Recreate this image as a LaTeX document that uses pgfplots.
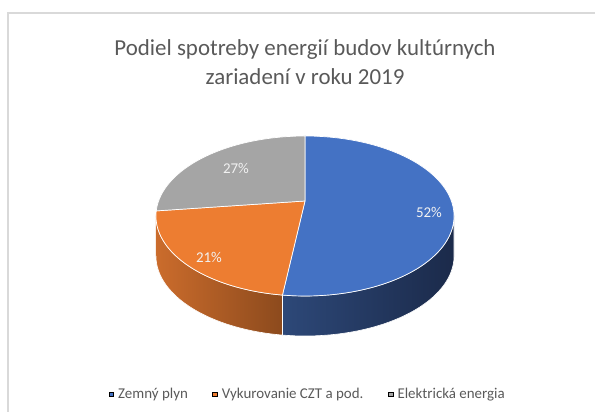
\documentclass[border=0pt]{standalone}
\usepackage{pgfplots}
\pgfplotsset{compat=1.18}
\usepackage{pgfplotstable}
\usepackage{fontspec}
\setmainfont{Carlito}
\definecolor{cblue}{HTML}{4472C4}
\definecolor{corange}{HTML}{ED7D31}
\definecolor{cgray}{HTML}{A5A5A5}
\definecolor{ctext}{HTML}{595959}
\definecolor{cframe}{HTML}{D9D9D9}
\definecolor{bwallL}{HTML}{2D4878}
\definecolor{bwallR}{HTML}{1B2A4A}
\definecolor{owallL}{HTML}{CB6C2C}
\definecolor{owallR}{HTML}{8C4A1D}
\definecolor{clabel}{HTML}{F2F2F2}
\pgfplotstableread{
share
52
21
27
}\shares
\pgfplotstablegetelem{0}{share}\of\shares \let\vA\pgfplotsretval
\pgfplotstablegetelem{1}{share}\of\shares \let\vB\pgfplotsretval
\pgfplotstablegetelem{2}{share}\of\shares \let\vC\pgfplotsretval
\pgfmathsetmacro\tA{90}
\pgfmathsetmacro\tB{90-3.6*\vA}
\pgfmathsetmacro\tC{\tB-3.6*\vB}
\pgfmathsetmacro\tD{\tC-3.6*\vC}
\pgfmathsetmacro\sR{-asin(0.1875)}
\pgfmathsetmacro\sL{max(\tC,-180-\sR)}
\begin{document}%
\begin{tikzpicture}
\begin{axis}[
  width=595bp, height=412bp, scale only axis,
  xmin=0, xmax=595, ymin=0, ymax=412,
  hide axis, clip=false,
  declare function={
    PX(\t)=305+146.4*cos(\t)/(1+0.1875*sin(\t));
    PY(\t)=211+77.19*sin(\t)/(1+0.1875*sin(\t));
    WT(\s,\a,\b)=(\s<=50) ? (\a+\s/50*(\b-\a)) : (\b-(\s-51)/50*(\b-\a));
    WD(\s)=(\s<=50) ? 0 : 40;
    TT(\s,\a,\b)=\a+(\s-1)/100*(\b-\a);
    CE(\s)=(\s<0.5 || \s>101.5) ? 1 : 0;
  },
  legend image code/.code={\fill[#1] (0bp,-2.2bp) rectangle (4.6bp,2.2bp);},
  legend style={at={(axis cs:309,18)}, anchor=center, draw=none, fill=none,
    legend columns=3, font=\fontsize{15}{17}\selectfont, text=ctext,
    /tikz/every even column/.append style={column sep=20bp},
    nodes={inner sep=0bp, inner xsep=4.5bp}},
]
\coordinate (LL) at (axis cs:0,0);
\coordinate (UR) at (axis cs:595,412);
% frame
\draw[cframe, line width=1.3bp] (axis cs:8,0) -- (axis cs:8,399) -- (axis cs:595,399);
% walls
\addplot[forget plot, left color=bwallL, right color=bwallR, draw=white, line width=0.6bp,
  samples at={0,1,...,101}, variable=\s]
  ({PX(WT(\s,\tB,\sR))}, {PY(WT(\s,\tB,\sR))-WD(\s)});
\addplot[forget plot, left color=owallL, right color=owallR, draw=white, line width=0.6bp,
  samples at={0,1,...,101}, variable=\s]
  ({PX(WT(\s,\sL,\tB))}, {PY(WT(\s,\sL,\tB))-WD(\s)});
% top faces
\addplot[forget plot, fill=cblue, draw=white, line width=0.7bp,
  samples at={0,1,...,102}, variable=\s]
  ({CE(\s)==1 ? 305 : PX(TT(\s,\tA,\tB))}, {CE(\s)==1 ? 211 : PY(TT(\s,\tA,\tB))});
\addplot[forget plot, fill=corange, draw=white, line width=0.7bp,
  samples at={0,1,...,102}, variable=\s]
  ({CE(\s)==1 ? 305 : PX(TT(\s,\tB,\tC))}, {CE(\s)==1 ? 211 : PY(TT(\s,\tB,\tC))});
\addplot[forget plot, fill=cgray, draw=white, line width=0.7bp,
  samples at={0,1,...,102}, variable=\s]
  ({CE(\s)==1 ? 305 : PX(TT(\s,\tC,\tD))}, {CE(\s)==1 ? 211 : PY(TT(\s,\tC,\tD))});
% labels
\node[text=clabel, font=\fontsize{15}{17}\selectfont] at (axis cs:429,200) {\vA\%};
\node[text=clabel, font=\fontsize{15}{17}\selectfont] at (axis cs:209,155) {\vB\%};
\node[text=clabel, font=\fontsize{15}{17}\selectfont] at (axis cs:236,244) {\vC\%};
% title
\node[anchor=base, text=ctext, font=\fontsize{23}{27}\selectfont] at (axis cs:305,356.3) {Podiel spotreby energií budov kultúrnych};
\node[anchor=base, text=ctext, font=\fontsize{23}{27}\selectfont] at (axis cs:305,327) {zariadení v roku 2019};
% legend
\addlegendimage{fill=cblue}
\addlegendentry{Zemný plyn}
\addlegendimage{fill=corange}
\addlegendentry{Vykurovanie CZT a pod.}
\addlegendimage{fill=cgray}
\addlegendentry{Elektrická energia}
\end{axis}
\pgfresetboundingbox
\path (LL) rectangle (UR);
\end{tikzpicture}%
\end{document}
